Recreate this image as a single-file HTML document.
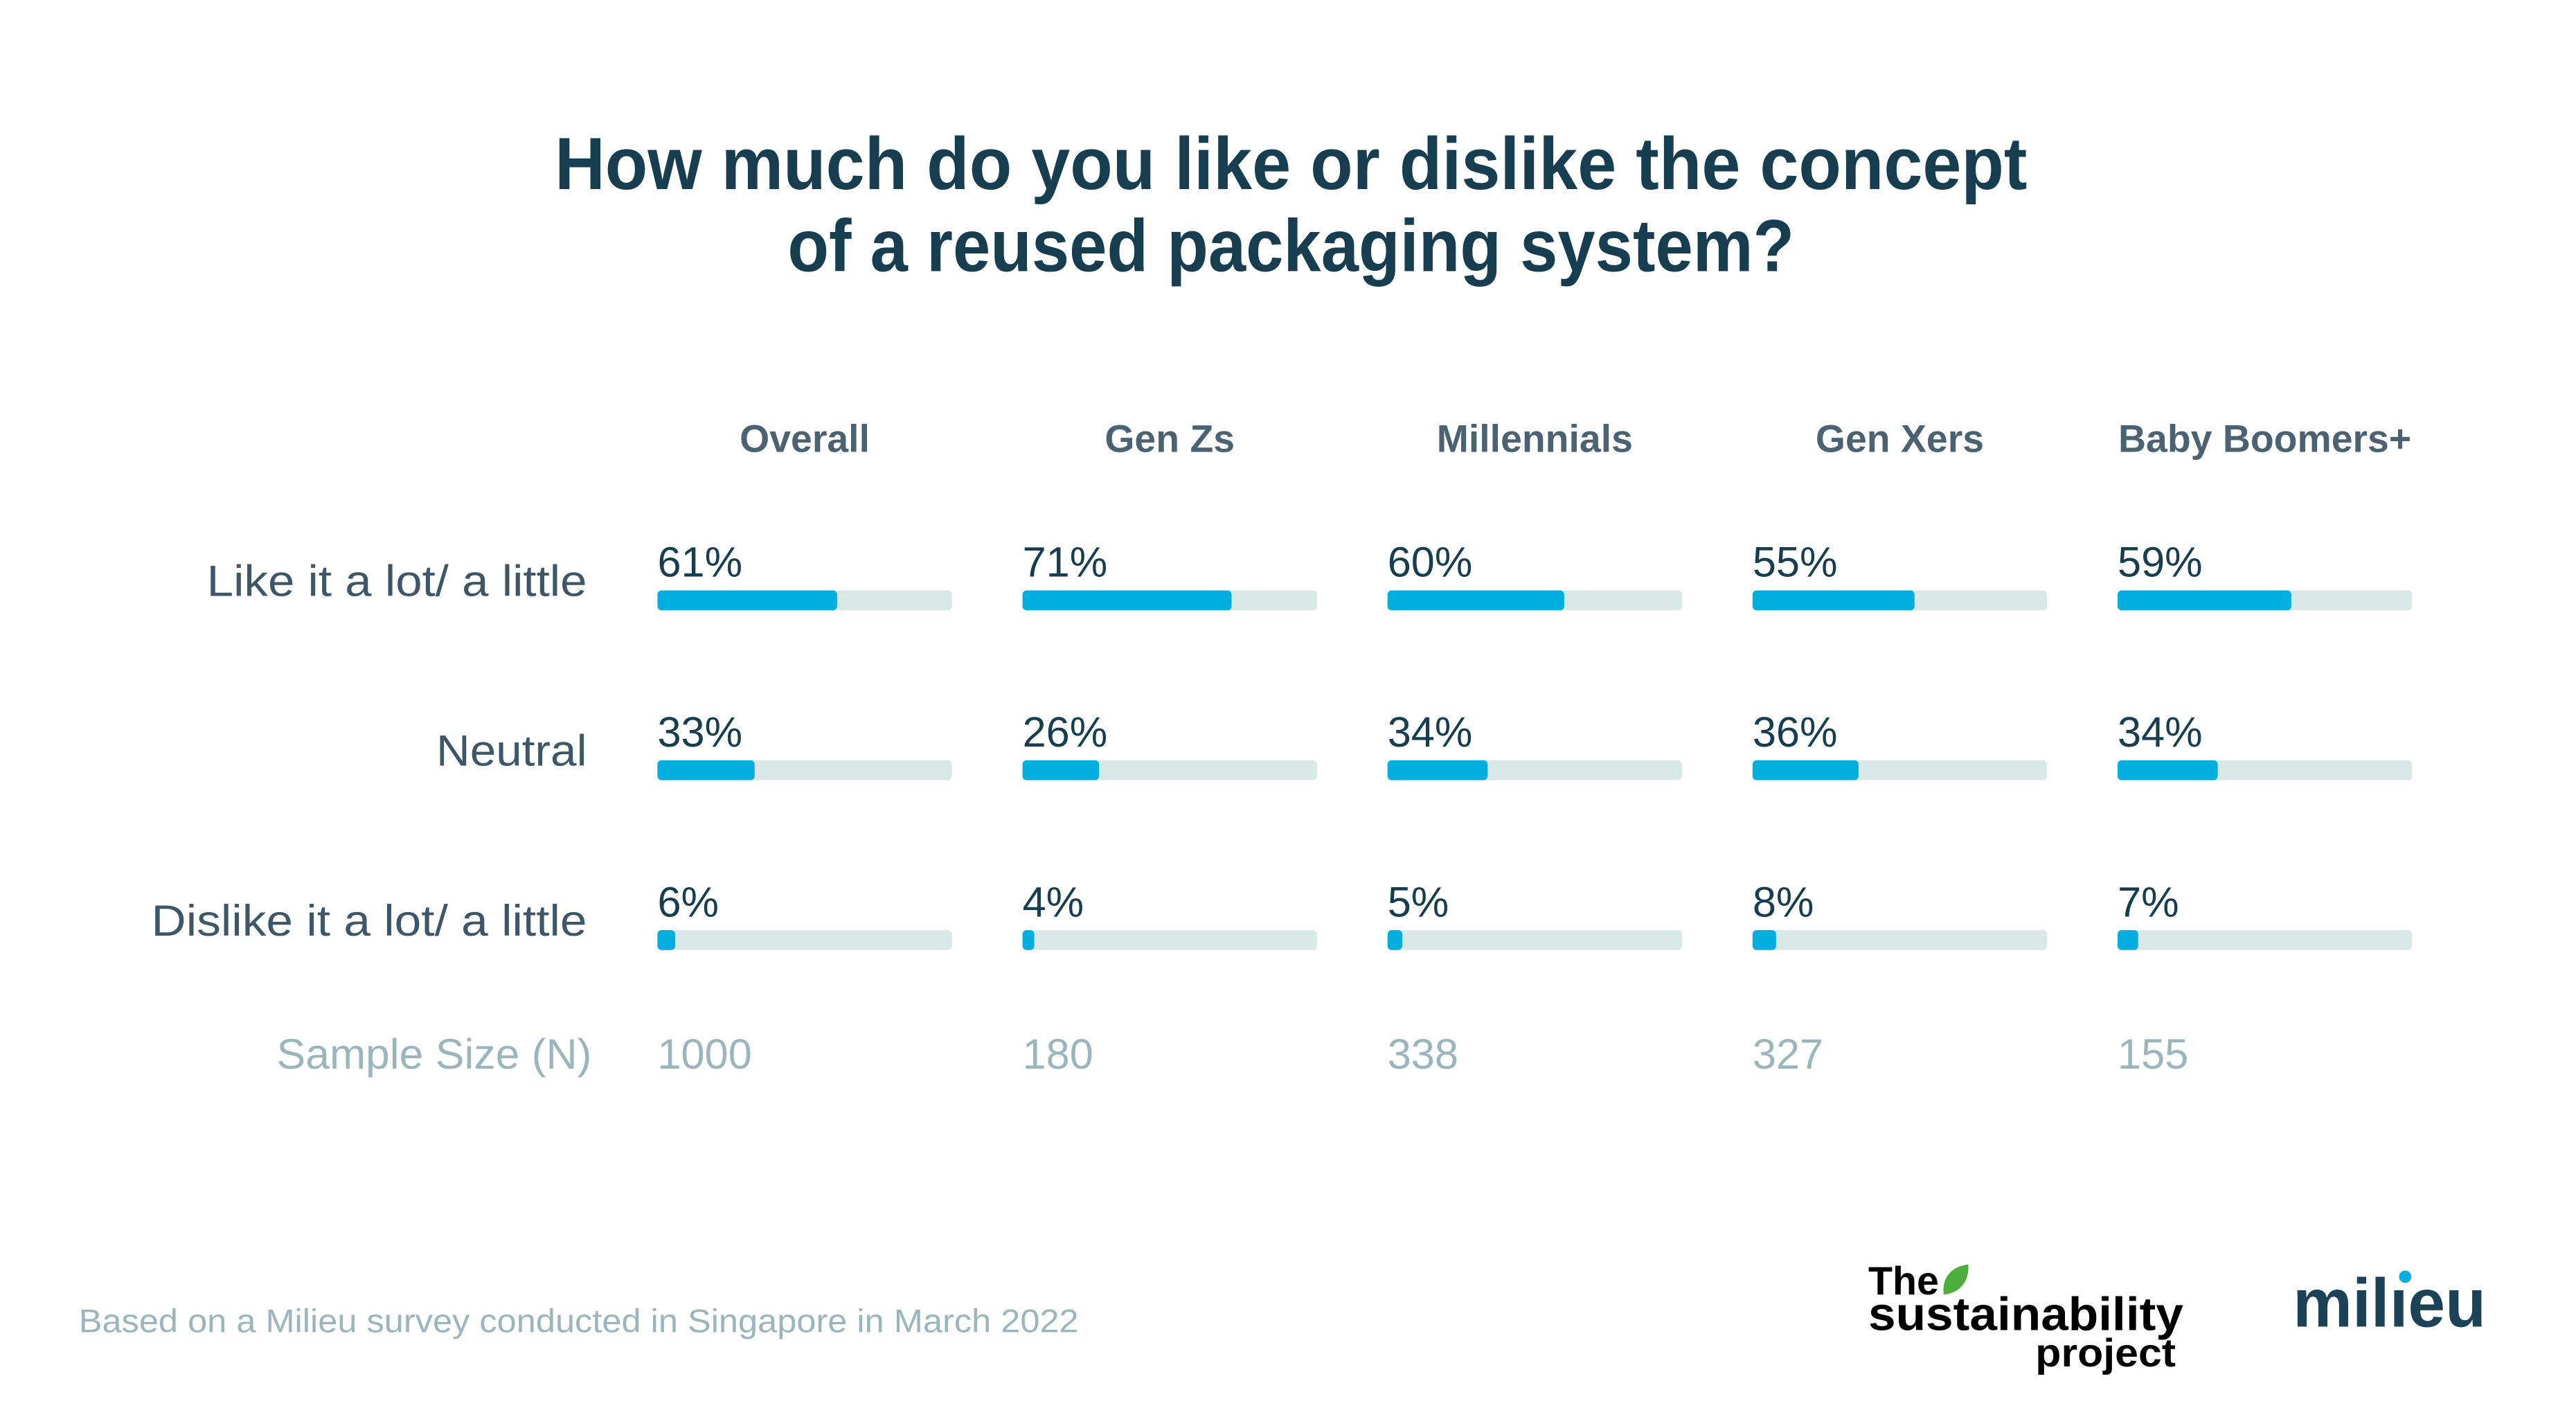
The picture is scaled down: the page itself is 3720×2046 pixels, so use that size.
<!DOCTYPE html>
<html><head><meta charset="utf-8"><style>
html,body{margin:0;padding:0;background:#fff;}
svg{display:block;font-family:"Liberation Sans",sans-serif;}
</style></head><body>
<svg id="chart" width="3720" height="2046" viewBox="0 0 3720 2046">
<g transform="scale(0.989)">
<text x="1885" y="276" text-anchor="middle" font-size="108" font-weight="bold" fill="#163e50" textLength="2150" lengthAdjust="spacingAndGlyphs">How much do you like or dislike the concept</text>
<text x="1885" y="396" text-anchor="middle" font-size="108" font-weight="bold" fill="#163e50" textLength="1470" lengthAdjust="spacingAndGlyphs">of a reused packaging system?</text>
<g id="plot"></g>
<text x="115" y="1945" font-size="48" fill="#9ab5bb" textLength="1460" lengthAdjust="spacingAndGlyphs">Based on a Milieu survey conducted in Singapore in March 2022</text>
<g>
<text x="2728" y="1890" font-size="58" font-weight="bold" fill="#000">The</text>
<path d="M2838 1890 C2835 1860 2855 1848 2874 1846 C2876 1870 2862 1888 2838 1890 Z" fill="#4caf3a"/>
<text x="2728" y="1942" font-size="68" font-weight="bold" fill="#000" textLength="460" lengthAdjust="spacingAndGlyphs">sustainability</text>
<text x="2972" y="1995" font-size="58" font-weight="bold" fill="#000" textLength="205" lengthAdjust="spacingAndGlyphs">project</text>
</g>
<g>
<text x="3348" y="1937" font-size="100" font-weight="bold" fill="#1b4257" textLength="282" lengthAdjust="spacingAndGlyphs">milıeu</text>
<circle cx="3512" cy="1864" r="9" fill="#00aee0"/>
</g>
</g>
</svg>
<script>
const groups = ["Overall", "Gen Zs", "Millennials", "Gen Xers", "Baby Boomers+"];
const rowLabels = ["Like it a lot/ a little", "Neutral", "Dislike it a lot/ a little"];
const likeVals = [61, 71, 60, 55, 59];
const neutralVals = [33, 26, 34, 36, 34];
const dislikeVals = [6, 4, 5, 8, 7];
const sampleSizes = [1000, 180, 338, 327, 155];

const NS = "http://www.w3.org/2000/svg";
const plot = document.getElementById("plot");
const series = [likeVals, neutralVals, dislikeVals];
const labelLens = [555, 220, 636];
const colX = i => 960 + i * 533;
const rowY = r => 862 + r * 248;
const barW = 430, barH = 29;
const xScale = v => v / 100 * barW;
function mk(tag, attrs, text) {
  const e = document.createElementNS(NS, tag);
  for (const k in attrs) e.setAttribute(k, attrs[k]);
  if (text !== undefined) e.textContent = text;
  plot.appendChild(e);
  return e;
}
groups.forEach((g, i) => {
  const t = mk("text", {x: colX(i) + barW / 2, y: 660, "text-anchor": "middle", "font-size": 56, "font-weight": "bold", fill: "#4a6272"}, g);
  
  
  const s = mk("text", {x: colX(i), y: 1560, "font-size": 62, fill: "#9ab5bb"}, String(sampleSizes[i]));
  
  
});
rowLabels.forEach((lab, r) => {
  const t = mk("text", {x: 857, y: rowY(r) + 8, "text-anchor": "end", "font-size": 64, fill: "#3d5668", textLength: labelLens[r], lengthAdjust: "spacingAndGlyphs"}, lab);
  
  
  series[r].forEach((v, i) => {
    const x = colX(i), y = rowY(r);
    const track = mk("rect", {x: x, y: y, width: barW, height: barH, rx: 6, fill: "#d8e8e6"});
    
    
    const bar = mk("rect", {x: x, y: y, width: xScale(v), height: barH, rx: 6, fill: "#00aee0"});
    
    
    const lbl = mk("text", {x: x, y: y - 20, "font-size": 62, fill: "#163e50"}, v + "%");
    
    
  });
});
const ss = mk("text", {x: 864, y: 1560, "text-anchor": "end", "font-size": 62, fill: "#9ab5bb", textLength: 460, lengthAdjust: "spacingAndGlyphs"}, "Sample Size (N)");


</script>
</body></html>
